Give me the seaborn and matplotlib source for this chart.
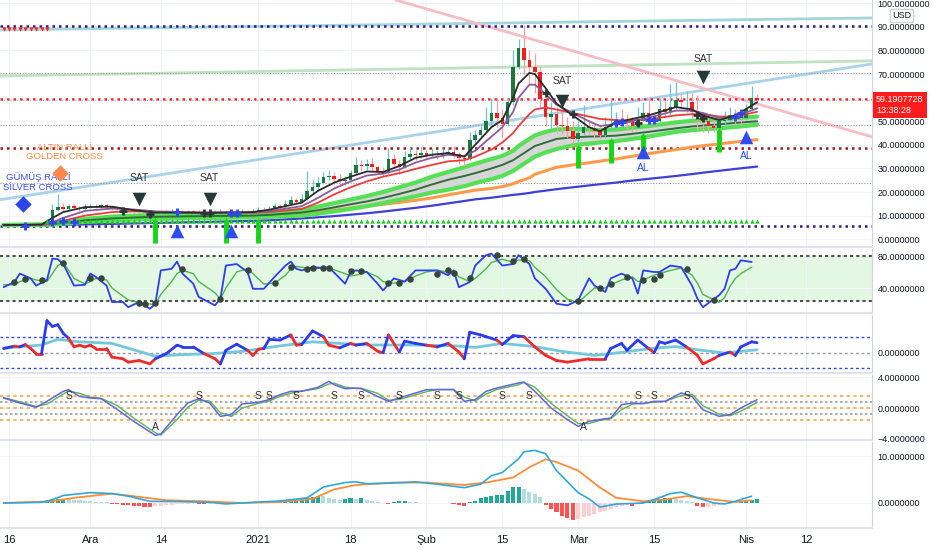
import numpy as np
import pandas as pd
import matplotlib
matplotlib.use("Agg")
import matplotlib.pyplot as plt
import seaborn as sns
from matplotlib import font_manager

# day 0 = 16 Kas 2020, one candle per day
days = np.arange(-1, 139)
closes = [6.0, 6.1, 5.9, 6.0, 6.2, 6.1, 6.0, 6.3, 7.5, 12.5,
          13.5, 12.8, 14.0, 13.2, 12.6, 13.8, 14.2, 13.9, 14.3, 13.5,
          13.0, 12.8, 12.2, 12.5, 11.8, 12.0, 11.5, 11.2, 11.6, 11.0,
          11.3, 11.5, 12.0, 11.6, 11.8, 11.2, 11.4, 11.0, 10.8, 11.2,
          11.5, 11.0, 11.4, 11.2, 11.6, 11.3, 11.8, 12.5, 12.2, 13.0,
          14.0, 13.5, 15.0, 16.5, 15.8, 17.0, 20.5, 22.0, 24.0, 26.5,
          27.0, 25.5, 24.5, 25.0, 28.0, 31.5, 31.0, 32.0, 30.5, 29.0,
          28.0, 34.0, 32.0, 30.5, 35.0, 36.0, 35.5, 36.5, 35.8, 36.0,
          35.5, 36.5, 37.0, 36.0, 34.5, 34.0, 42.0, 44.0, 46.5, 50.0,
          53.5, 51.5, 49.0, 58.0, 73.0, 81.0, 76.0, 73.0, 71.0, 59.5,
          52.0, 53.0, 48.5, 48.0, 46.0, 42.5, 45.0, 47.5, 47.0, 46.0,
          44.0, 47.5, 49.0, 50.5, 50.0, 49.5, 48.0, 50.0, 53.5, 51.0,
          50.0, 55.0, 54.0, 56.0, 59.0, 58.0, 58.0, 54.0, 52.5, 50.0,
          48.0, 47.0, 50.0, 50.5, 52.5, 52.0, 51.5, 55.0, 60.0, 59.2]
highs = [6.3, 6.4, 6.3, 6.4, 6.5, 6.4, 6.4, 6.6, 8.5, 15.0,
         19.0, 15.5, 15.0, 14.8, 14.0, 14.8, 15.0, 14.8, 15.0, 14.8,
         14.0, 13.8, 13.5, 13.3, 12.8, 12.8, 12.5, 12.3, 12.5, 12.0,
         12.2, 12.8, 12.8, 12.5, 12.5, 12.2, 12.3, 11.8, 11.8, 12.2,
         12.6, 12.2, 12.4, 12.3, 12.6, 12.2, 12.6, 13.8, 13.5, 14.0,
         15.5, 15.0, 16.5, 18.5, 17.5, 19.0, 29.0, 25.5, 26.5, 28.5,
         29.5, 28.5, 27.5, 27.0, 29.5, 35.0, 33.5, 34.0, 34.5, 31.0,
         30.5, 38.5, 36.0, 33.5, 37.5, 39.0, 38.0, 39.5, 38.0, 38.5,
         38.0, 38.5, 39.0, 39.5, 37.0, 35.5, 45.5, 46.5, 48.0, 56.0,
         60.0, 60.0, 55.0, 60.0, 80.0, 85.0, 91.0, 80.0, 79.0, 73.5,
         60.5, 58.0, 56.0, 57.0, 52.0, 50.0, 50.0, 57.0, 50.5, 49.0,
         49.0, 52.0, 59.0, 54.0, 55.0, 53.0, 52.0, 56.0, 58.0, 59.0,
         54.0, 60.0, 58.5, 66.0, 66.5, 62.0, 63.0, 62.0, 61.0, 54.0,
         53.0, 51.0, 52.0, 54.5, 56.0, 55.0, 54.0, 57.5, 65.0, 61.5]
lows = [5.7, 5.8, 5.6, 5.7, 5.8, 5.8, 5.7, 5.8, 6.0, 7.2,
        12.0, 12.2, 12.5, 12.6, 12.0, 12.4, 13.3, 13.3, 13.4, 13.0,
        12.5, 12.3, 11.8, 11.8, 11.3, 11.4, 11.0, 10.8, 10.9, 10.5,
        10.8, 11.0, 11.2, 11.0, 11.2, 10.8, 10.9, 10.5, 10.3, 10.6,
        10.9, 10.6, 10.8, 10.8, 11.0, 10.9, 11.1, 11.6, 11.6, 12.0,
        12.8, 12.6, 13.3, 15.0, 15.0, 15.5, 16.8, 19.5, 21.0, 23.5,
        25.0, 23.5, 22.5, 23.0, 24.5, 27.5, 29.0, 29.5, 29.0, 27.5,
        27.0, 27.5, 30.0, 27.5, 30.0, 33.5, 33.5, 34.5, 34.0, 34.5,
        34.0, 34.5, 35.5, 34.5, 32.0, 31.0, 33.5, 40.5, 43.0, 45.5,
        48.0, 47.5, 43.5, 48.0, 57.0, 72.0, 70.0, 66.0, 62.0, 55.0,
        48.0, 47.0, 45.0, 44.5, 43.0, 40.0, 41.0, 44.0, 44.5, 43.0,
        42.5, 43.0, 46.0, 47.5, 48.0, 46.5, 45.5, 47.5, 50.0, 48.5,
        47.5, 49.5, 51.5, 52.5, 55.0, 55.5, 54.0, 51.0, 46.5, 45.5,
        45.0, 45.5, 46.5, 48.5, 49.5, 49.0, 48.5, 50.5, 54.5, 58.0]

# moving averages
ma_days = [-1, 6, 8, 10, 14, 19, 23, 27, 36, 45, 48, 54, 57, 60, 63, 66, 69, 72, 75, 78,
           81, 84, 86, 89, 91, 93, 94, 96, 97, 99, 101, 104, 107, 109, 112, 114, 118, 123,
           126, 128, 131, 134, 138]
ma_black = [6.0, 6.2, 9.0, 11.5, 13.6, 13.8, 12.3, 11.3, 11.2, 11.5, 12.5, 15.5, 20.5, 24.0,
            26.5, 28.7, 28.5, 31.0, 34.5, 35.8, 36.5, 35.0, 40.0, 47.5, 50.5, 60.0, 66.0, 70.5,
            70.0, 64.0, 57.5, 52.5, 47.5, 45.8, 49.5, 50.5, 52.5, 56.0, 55.0, 52.5, 50.5, 52.5, 58.0]
ma_purple = [6.0, 6.1, 7.2, 9.0, 12.0, 13.0, 12.6, 11.8, 11.3, 11.3, 11.9, 14.0, 17.5, 21.5,
             24.5, 27.0, 27.8, 29.5, 32.5, 34.5, 35.8, 35.2, 37.5, 43.5, 47.5, 54.0, 60.0, 65.5,
             65.5, 61.5, 57.0, 53.5, 50.0, 48.0, 48.8, 49.5, 51.5, 54.5, 54.5, 53.5, 51.5, 52.0, 55.5]
ma_red = [6.0, 6.1, 6.8, 7.8, 10.0, 11.5, 11.8, 11.6, 11.3, 11.2, 11.5, 12.8, 15.5, 19.0,
          22.0, 24.5, 26.5, 28.0, 29.8, 31.5, 33.0, 33.5, 35.0, 38.0, 41.0, 45.0, 48.0, 53.0,
          55.0, 55.8, 55.0, 53.5, 52.0, 51.0, 50.5, 50.3, 50.8, 52.5, 53.0, 53.0, 52.0, 52.0, 54.0]
band_up = [6.1, 6.3, 6.6, 7.2, 8.6, 9.6, 10.0, 10.3, 10.5, 10.8, 11.0, 12.5, 13.8, 15.3,
           16.8, 18.3, 20.0, 22.0, 24.0, 26.5, 28.5, 30.5, 32.0, 34.0, 35.3, 37.5, 39.5, 42.5,
           44.0, 45.5, 46.5, 46.8, 46.5, 46.3, 46.5, 47.0, 48.0, 49.5, 50.2, 50.5, 50.8, 51.3, 52.0]
band_mid = [6.0, 6.1, 6.4, 6.9, 8.0, 8.8, 9.2, 9.5, 9.8, 10.0, 10.3, 11.3, 12.3, 13.5,
            14.8, 16.0, 17.5, 19.2, 21.0, 23.2, 25.2, 26.8, 28.0, 30.0, 31.5, 33.5, 35.0, 38.0,
            39.5, 41.0, 42.5, 43.2, 43.5, 43.6, 43.9, 44.4, 45.5, 47.0, 47.8, 48.2, 48.7, 49.3, 50.0]
band_lo = [5.9, 6.0, 6.2, 6.6, 7.4, 8.0, 8.4, 8.7, 8.9, 9.3, 9.5, 10.0, 10.8, 11.8,
           12.8, 14.0, 15.3, 16.8, 18.2, 19.8, 21.0, 22.5, 23.8, 25.5, 26.8, 29.0, 30.5, 33.5,
           35.0, 36.8, 38.2, 39.8, 40.5, 41.0, 41.6, 42.2, 43.5, 45.5, 46.2, 46.6, 47.0, 47.6, 48.5]
ma_orange = [6.0, 6.1, 6.3, 6.6, 7.3, 7.9, 8.2, 8.5, 9.0, 9.5, 9.8, 10.8, 11.5, 12.3,
             13.2, 14.0, 14.8, 15.6, 16.5, 17.5, 18.8, 20.0, 20.8, 21.5, 22.3, 23.5, 24.5, 26.0,
             27.5, 29.0, 30.5, 31.5, 32.4, 33.1, 34.0, 34.8, 36.3, 38.0, 39.0, 39.6, 40.4, 41.2, 42.2]
ma_blue = [5.8, 5.9, 6.0, 6.1, 6.3, 6.5, 6.7, 6.9, 7.3, 7.8, 8.0, 8.8, 9.3, 9.8,
           10.4, 11.0, 11.7, 12.5, 13.3, 14.2, 15.2, 16.2, 16.9, 17.6, 18.2, 18.8, 19.0, 19.6,
           20.0, 20.6, 21.2, 22.0, 22.8, 23.3, 24.0, 24.6, 25.6, 26.8, 27.6, 28.2, 29.0, 29.8, 30.8]

# drawn trend lines: (day0, price0, day1, price1, colour)
trend_lines = [(-1.7, 88.7, 159.2, 93.8, "#a3d6d9"),
               (-1.7, 69.2, 159.2, 75.6, "#bfe3c0"),
               (-1.7, 16.7, 159.2, 74.3, "#a9d2ec"),
               (71.3, 101.4, 159.2, 43.4, "#f7bcc5")]
level_purple = [90.4, 5.6]
level_red = 59.4
level_darkred = 38.7
level_gray = [70.5, 48.4, 23.9]
last_price = 59.19

# signals
sat_days = [24, 37, 102, 128]
sat_marks = [17.1, 17.1, 58.6, 68.8]
sat_text = [26.0, 26.0, 67.1, 76.4]
al_days = [31, 41, 117, 136]
al_marks = [3.5, 3.5, 37.0, 43.3]
al_text = [np.nan, np.nan, 30.2, 35.3]
arrow_days = [27, 40, 46, 105, 111, 117, 131]
arrow_base = [-1.5, -1.5, -1.5, 30.2, 32.3, 34.4, 37.0]
arrow_tip = [8.2, 8.2, 8.2, 39.1, 42.1, 44.2, 46.4]
dark_cross_days = [21, 26, 36, 37, 99, 104, 116, 127, 128]
dark_cross_vals = [12.0, 10.6, 11.1, 11.1, 62.0, 53.0, 49.3, 52.7, 51.2]
blue_cross_days = [3, 8, 10, 12, 31, 41, 42, 112, 113, 118, 119, 134, 135]
blue_cross_vals = [5.6, 7.5, 7.8, 7.5, 11.4, 11.2, 11.2, 49.3, 49.5, 50.5, 50.5, 51.8, 53.5]
sell_alarm_days = [-1, 0, 1, 2, 3, 4, 5, 6, 7]
sell_alarm_level = 88.9
buy_alarm_level = 7.7
silver_cross = (2.6, 15.0)
silver_label = (5.4, 24.3)
golden_cross = (9.5, 28.1)
golden_label = (10.2, 37.0)

# RSI pane
rsi_days = [-1, 1, 2, 4, 5, 7, 8, 9, 10, 12, 14, 15, 16, 18, 19, 21, 22, 24, 26, 27,
            28, 30, 31, 32, 34, 35, 38, 39, 40, 42, 44, 45, 47, 49, 51, 52, 53, 54, 56, 58,
            59, 62, 63, 64, 66, 68, 69, 71, 73, 75, 77, 79, 81, 82, 83, 85, 86, 88, 89, 91,
            93, 94, 96, 97, 99, 101, 103, 105, 107, 108, 110, 111, 113, 115, 116, 117, 119, 120, 122, 124,
            126, 127, 128, 131, 132, 133, 134, 135, 137]
rsi_vals = [41, 47.5, 58, 52, 43, 50, 76.7, 76, 70, 43, 44, 58, 54, 43, 22.5, 22.5, 16, 22.5, 14, 20.4,
            62, 64, 73, 58, 45.4, 28.8, 18.3, 26.7, 68, 70, 60, 39, 39, 54, 68, 73, 64, 62, 66, 65,
            66, 45.4, 60, 62, 60, 45.4, 37, 52, 48, 62, 62, 62, 56, 62, 41, 47.5, 68, 81, 83, 68,
            70, 81, 70, 52, 39, 20.4, 18.3, 24.6, 52, 43, 35, 52, 58, 52, 33, 62, 60, 60, 68, 66,
            43, 26.7, 16, 31, 39, 62, 64, 74.6, 72.5]
rsi_ma = [44, 44, 48, 52, 50, 48, 58, 68, 72, 52, 45, 48, 52, 50, 40, 30, 25, 22, 20, 19,
          32, 48, 58, 62, 58, 48, 34, 26, 40, 60, 64, 58, 45, 46, 56, 64, 67, 66, 64, 65,
          65, 58, 55, 56, 60, 54, 48, 46, 48, 55, 60, 62, 60, 59, 54, 48, 52, 64, 72, 76,
          72, 75, 74, 66, 54, 38, 26, 22, 34, 40, 40, 44, 50, 54, 48, 50, 56, 58, 62, 65,
          56, 46, 32, 22, 28, 42, 52, 58, 66]
rsi_dot_days = [1, 3, 6, 10, 15, 17, 24, 25, 27, 32, 39, 44, 49, 52, 55, 56, 58, 59, 63, 65,
                70, 72, 74, 79, 81, 82, 85, 90, 93, 95, 105, 109, 111, 114, 117, 119, 120, 125, 130]
rsi_dot_vals = [47.5, 51.7, 49.6, 71.7, 52.5, 52.5, 21.7, 20.4, 21.7, 63.3, 26.7, 62, 46.7, 66.3,
                63.3, 65, 65, 65, 60.8, 60.8, 46.7, 46.7, 50.8, 57.9, 62, 59.2, 52.5, 81.7, 73.3,
                75.8, 23.3, 40, 45.4, 53.8, 49.6, 51.7, 55.8, 63.3, 24.6]
rsi_levels = [80, 24]

# momentum pane
mom_days = [-1, 1, 2, 3, 4, 5, 6, 7, 8, 9, 10, 11, 12, 13, 14, 15, 16, 18, 19, 21,
            22, 24, 26, 27, 29, 31, 32, 34, 36, 38, 39, 40, 42, 44, 45, 46, 47, 48, 50, 52,
            53, 54, 56, 58, 59, 61, 63, 64, 66, 68, 69, 70, 72, 73, 75, 77, 79, 81, 83, 84,
            85, 87, 88, 90, 91, 93, 95, 97, 99, 101, 103, 105, 107, 110, 111, 113, 114, 116, 118, 119,
            120, 121, 123, 125, 127, 128, 130, 131, 133, 134, 135, 137, 138]
mom_vals = [0.28, 0.43, 0.38, 0.53, 0.28, -0.04, -0.04, 2.02, 1.66, 1.77,
            1.23, 0.91, 0.38, 0.49, 0.38, 0.49, 0.28, 0.28, -0.26, -0.36,
            -0.57, -0.47, -0.68, -0.36, -0.04, 0.49, 0.38, 0.38, -0.04, -0.36,
            -0.68, 0.17, 0.55, 0.17, -0.15, 0.23, 0.28, 0.85, 0.81, 1.13,
            0.49, 0.53, 1.38, 1.02, 0.49, 0.32, 0.6, 0.49, 0.6, 0.11,
            0.02, 1.13, 0.06, 0.74, 0.6, 0.49, 0.38, 0.6, 0.06, -0.36,
            1.3, 1.13, 1.02, 0.81, 0.53, 1.09, 1.02, 0.38, -0.15, -0.47,
            -0.57, -0.47, -0.36, -0.36, 0.28, 0.6, 0.17, 0.81, 0.28, 0.02,
            0.7, 0.6, 0.81, 0.38, -0.15, -0.68, -0.36, -0.15, 0.06, -0.15,
            0.38, 0.7, 0.64]
mom_sig_days = [-1, 6, 9, 13, 19, 23, 27, 32, 37, 43, 49, 56, 61, 66, 75, 82, 86, 91,
                97, 102, 108, 112, 119, 123, 127, 132, 138]
mom_sig_vals = [0.3, 0.5, 0.85, 0.7, 0.6, 0.2, -0.2, -0.1, -0.05, 0.1, 0.4, 0.7, 0.6, 0.5,
                0.5, 0.45, 0.35, 0.6, 0.4, 0.1, -0.15, 0.0, 0.3, 0.4, 0.2, 0.0, 0.2]
mom_levels = [1.0, -0.95]

# stochastic pane
st_days = [-1, 2, 5, 7, 10, 11, 13, 15, 17, 20, 23, 27, 28, 31, 33, 35, 37, 39, 41, 43,
           46, 48, 50, 52, 54, 57, 59, 60, 62, 64, 65, 68, 70, 72, 74, 77, 79, 82, 84, 86,
           88, 90, 94, 95, 97, 100, 103, 105, 107, 109, 111, 113, 115, 117, 119, 121, 124, 126, 128, 131,
           133, 135, 138]
st_k = [1.29, 0.65, 0.09, 0.86, 2.15, 2.37, 1.5, 1.29, 1.2, -0.2,
        -1.72, -3.53, -3.35, -0.86, 0.65, 1.2, 0.65, -1.08, -0.86, 0.52,
        0.73, 1.08, 1.72, 2.15, 2.15, 2.67, 3.44, 3.0, 2.49, 2.58,
        2.5, 1.5, 0.86, 1.29, 1.72, 2.37, 2.37, 2.37, 0.86, 1.08,
        2.15, 2.58, 3.23, 3.35, 2.15, 0.0, -1.5, -2.37, -1.72, -1.5,
        -1.29, 0.43, 0.65, 0.56, 0.86, 0.86, 1.94, 1.5, -0.22, -1.08,
        -0.86, 0.0, 1.08]
st_d = [1.35, 0.8, 0.2, 0.5, 1.8, 2.2, 1.9, 1.4, 1.25, 0.3,
        -1.3, -3.2, -3.5, -1.5, 0.1, 1.0, 0.9, -0.6, -1.1, 0.0,
        0.6, 0.9, 1.5, 1.9, 2.2, 2.5, 3.1, 3.2, 2.7, 2.5,
        2.55, 1.9, 1.0, 1.1, 1.5, 2.1, 2.4, 2.4, 1.4, 0.9,
        1.8, 2.4, 3.0, 3.3, 2.7, 0.6, -1.0, -2.0, -2.0, -1.6,
        -1.4, -0.2, 0.5, 0.6, 0.75, 0.85, 1.6, 1.8, 0.3, -0.8,
        -1.0, -0.4, 0.7]
s_days = [11, 35, 46, 48, 53, 60, 65, 72, 79, 83, 91, 96, 116, 119, 125]
a_days = [27, 106]
st_orange_levels = [1.5, 0.0, -1.5]
st_gray_levels = [0.75, -0.75]

# MACD pane
macd_days = [-1, 6, 8, 10, 15, 19, 22, 26, 31, 37, 40, 45, 50, 55, 58, 62, 64, 66, 70, 75,
             79, 84, 87, 89, 91, 94, 95, 97, 99, 101, 105, 107, 109, 112, 117, 119, 122, 124, 127, 130,
             132, 134, 137]
macd_vals = [0, 0.15, 0.7, 1.6, 2.2, 2.0, 1.45, 0.36, 0.3, 0.15, -0.2, 0.15, 0.43, 1.1, 3.4,
             4.35, 4.5, 4.1, 4.2, 4.5, 4.0, 3.26, 4.0, 5.8, 6.5, 9.4, 10.9, 11.2, 10.5, 6.9,
             2.2, 0.87, -0.87, -0.22, 0, 0.72, 2.0, 2.3, 1.1, 0, -0.2, 0.36, 1.45]
signal_days = [-1, 8, 12, 19, 24, 29, 36, 43, 50, 56, 60, 64, 71, 77, 84, 88, 93, 96, 99,
               101, 105, 109, 112, 117, 121, 125, 130, 134, 137]
signal_vals = [0, 0.36, 1.1, 2.0, 1.3, 0.58, 0.36, 0, 0.22, 0.87, 2.9, 3.84, 4.35, 4.35,
               3.84, 4.35, 5.43, 7.6, 9.3, 8.7, 6.9, 3.3, 1.1, 0.36, 0.72, 1.45, 0.72, 0.22, 0.58]
hist = [0.0, 0.02, 0.03, 0.02, 0.04, 0.05, 0.1, 0.3, 0.5, 0.7,
        0.87, 0.9, 0.75, 0.7, 0.6, 0.5, 0.4, 0.3, 0.25, 0.15,
        -0.15, -0.25, -0.35, -0.45, -0.55, -0.65, -0.75, -0.8, -0.7, -0.6,
        -0.5, -0.4, -0.3, -0.2, -0.15, -0.1, -0.2, -0.25, -0.2, -0.1,
        -0.08, -0.06, -0.05, -0.03, -0.02, 0.05, 0.1, 0.15, 0.2, 0.25,
        0.3, 0.35, 0.4, 0.5, 0.6, 0.8, 1.1, 1.3, 1.5, 1.4,
        1.0, 0.8, 0.6, 0.9, 1.0, 0.9, 1.0, 0.6, 0.4, 0.2,
        0.1, -0.2, 0.3, 0.4, 0.4, 0.3, 0.2, 0.1, 0.05, -0.05,
        -0.1, -0.05, 0.05, -0.3, -0.5, -0.7, 0.2, 0.5, 1.0, 1.3,
        1.5, 1.6, 1.8, 2.5, 3.3, 3.35, 2.9, 2.4, 1.9, 1.2,
        -0.5, -1.3, -2.0, -2.7, -3.2, -3.6, -3.3, -3.0, -2.7, -2.4,
        -2.0, -1.6, -1.2, -0.9, -0.6, -0.4, -0.6, -0.3, 0.3, 0.5,
        0.7, 0.8, 1.0, 1.1, 0.9, 0.7, 0.4, 0.2, -0.6, -0.9,
        -0.8, -0.6, -0.4, -0.3, -0.2, 0.1, 0.3, 0.5, 0.7, 0.8]

tick_days = [0, 15, 28, 46, 63, 77, 91, 105, 119, 136, 147]
tick_labels = ["16", "Ara", "14", "2021", "18", "Şub", "15", "Mar", "15", "Nis", "12"]
price_ticks = [0, 10, 20, 30, 40, 50, 70, 80, 90, 100]  # 60 sits under the price tag

# ------------------------------------------------------------------
sns.set_theme(style="white")
plt.rcParams["font.family"] = ["DejaVu Sans"]
installed = {f.name for f in font_manager.fontManager.ttflist}
liberation = "Liberation Sans" in installed
axis_font = "Liberation Sans" if liberation else "DejaVu Sans"
axis_size = 6.5 if liberation else 5.8
note_size = 7.5 if liberation else 6.6

fig = plt.figure(figsize=(9.32, 5.5), dpi=100)
fig.patch.set_facecolor("white")
W = 872 / 932


def pane(top, bottom):
    return fig.add_axes([0, 1 - bottom / 550, W, (bottom - top) / 550])


def style(ax, ylim, ticks, labels):
    ax.set_xlim(-1.66, 159.2)
    ax.set_ylim(*ylim)
    ax.set_facecolor("white")
    ax.yaxis.tick_right()
    ax.set_yticks(ticks)
    ax.set_yticklabels(labels, fontsize=axis_size, color="#131722", family=axis_font)
    ax.set_xticks(tick_days)
    ax.tick_params(axis="y", length=0, pad=4)
    ax.tick_params(axis="x", length=0, labelbottom=False)
    ax.grid(True, color="#f0f3fa", lw=0.8)
    ax.set_axisbelow(True)
    for s in ["top", "left"]:
        ax.spines[s].set_visible(False)
    ax.spines["right"].set_color("#d1d4dc")
    ax.spines["right"].set_linewidth(0.8)
    ax.spines["bottom"].set_color("#e0e3eb")
    ax.spines["bottom"].set_linewidth(1.5)
    ax.set_xlabel("")
    ax.set_ylabel("")


ax1 = pane(0, 247)
ax2 = pane(249, 313)
ax3 = pane(315, 373)
ax4 = pane(375, 440)
ax5 = pane(442, 528)

# ---------------- main price pane ----------------
style(ax1, (-3.3, 101.4), price_ticks, [f"{v:.7f}" for v in price_ticks])

for d0, p0, d1, p1, c in trend_lines:
    ax1.plot([d0, d1], [p0, p1], color=c, lw=2, zorder=1)
dot = (0, (1, 1.6))
for lv in level_purple:
    ax1.axhline(lv, color="#2b1b8f", ls=dot, lw=1.8, zorder=1)
ax1.axhline(level_red, color="#ff1a1a", ls=dot, lw=1.8, zorder=1)
ax1.axhline(level_darkred, color="#a01818", ls=dot, lw=1.8, zorder=1)
for lv in level_gray:
    ax1.axhline(lv, color="#9a9a9a", ls=(0, (1, 1.5)), lw=0.8, zorder=1)
ax1.axhline(last_price, color="#a9a9f5", ls=dot, lw=0.9, zorder=1)

# ribbon + moving averages
ax1.fill_between(ma_days, band_lo, band_up, color="#d6d6d6", lw=0, zorder=2)
sns.lineplot(x=ma_days, y=ma_blue, ax=ax1, color="#3f3fd8", lw=1.6, zorder=2)
sns.lineplot(x=ma_days, y=ma_orange, ax=ax1, color="#ff9a4a", lw=2.2, zorder=2)
sns.lineplot(x=ma_days, y=band_up, ax=ax1, color="#55e055", lw=3, zorder=2)
sns.lineplot(x=ma_days, y=band_lo, ax=ax1, color="#55e055", lw=3, zorder=2)
sns.lineplot(x=ma_days, y=band_mid, ax=ax1, color="#2f6e3a", lw=1.4, zorder=2)

# candles
opens = np.r_[closes[0], closes[:-1]]
closes_a = np.array(closes)
up = closes_a >= opens
body_col = np.where(up, "#1e7a3c", "#f01e1e")
wick_col = np.where(up, "#67c6cc", "#f5a0a0")
ax1.vlines(days, lows, highs, colors=wick_col, lw=0.9, zorder=3)
body_lo = np.minimum(opens, closes_a)
body_h = np.maximum(np.abs(closes_a - opens), 0.35)
ax1.bar(days, body_h, bottom=body_lo, width=0.65, color=body_col, lw=0, zorder=3)

sns.lineplot(x=ma_days, y=ma_red, ax=ax1, color="#ee3b3b", lw=1.3, zorder=4)
sns.lineplot(x=ma_days, y=ma_purple, ax=ax1, color="#8e5a9c", lw=1.3, zorder=4)
sns.lineplot(x=ma_days, y=ma_black, ax=ax1, color="#2c2c2c", lw=1.3, zorder=4)

# signal markers
ax1.scatter(sell_alarm_days, [sell_alarm_level] * len(sell_alarm_days), marker="v",
            s=10, color="#ff2020", lw=0, zorder=5)
buy_days = days[days >= 7]
ax1.scatter(buy_days, [buy_alarm_level] * len(buy_days), marker="^", s=10,
            color="#22cc22", lw=0, zorder=5)
ax1.scatter(dark_cross_days, dark_cross_vals, marker="+", s=40, color="#2b3535",
            linewidths=2, zorder=6)
ax1.scatter(blue_cross_days, blue_cross_vals, marker="+", s=40, color="#2d46f0",
            linewidths=2, zorder=6)
ax1.vlines(arrow_days, arrow_base, arrow_tip, colors="#12d812", lw=3.5, zorder=6)
ax1.scatter(arrow_days, arrow_tip, marker="^", s=14, color="#12d812", lw=0, zorder=6)

ax1.scatter(sat_days, sat_marks, marker="v", s=95, color="#263838", lw=0, zorder=7)
for d, ty in zip(sat_days, sat_text):
    ax1.text(d, ty, "SAT", ha="center", va="center", fontsize=note_size, color="#333333",
             family=axis_font, zorder=7)
ax1.scatter(al_days, al_marks, marker="^", s=95, color="#2d4df0", lw=0, zorder=7)
for d, ty in zip(al_days, al_text):
    if not np.isnan(ty):
        ax1.text(d, ty, "AL", ha="center", va="center", fontsize=note_size, color="#2d4df0",
                 family=axis_font, zorder=7)

ax1.scatter(*silver_cross, marker="D", s=70, color="#2b45ee", lw=0, zorder=7)
ax1.text(*silver_label, "GÜMÜŞ RALLİ\nSİLVER CROSS", ha="center", va="center",
         fontsize=note_size - 0.7, color="#3a4ff0", linespacing=1.05, family=axis_font, zorder=7)
ax1.scatter(*golden_cross, marker="D", s=70, color="#ff8a4c", lw=0, zorder=7)
ax1.text(*golden_label, "ALTIN RALLİ\nGOLDEN CROSS", ha="center", va="center",
         fontsize=note_size - 0.7, color="#ff8a40", linespacing=1.05, family=axis_font, zorder=7)

# ---------------- RSI pane ----------------
style(ax2, (8.75, 88.75), [80, 40], ["80.0000000", "40.0000000"])
ax2.axhspan(rsi_levels[1], rsi_levels[0], color="#e2f8e2", lw=0, zorder=0)
for lv in rsi_levels:
    ax2.axhline(lv, color="#4d4d4d", ls=(0, (1.5, 1.5)), lw=1.5, zorder=1)
sns.lineplot(x=rsi_days, y=rsi_ma, ax=ax2, color="#4cb84c", lw=1.0, zorder=2)
sns.lineplot(x=rsi_days, y=rsi_vals, ax=ax2, color="#2f3df0", lw=1.3, zorder=3)
ax2.scatter(rsi_dot_days, rsi_dot_vals, s=22, color="#37453d", lw=0, zorder=4)

# ---------------- momentum pane ----------------
style(ax3, (-1.25, 2.375), [0], ["0.0000000"])
for lv in mom_levels:
    ax3.axhline(lv, color="#3344ff", ls=(0, (2, 2)), lw=1, zorder=1)
ax3.axhline(0, color="#9a9a9a", ls=(0, (2, 2)), lw=1, zorder=1)
sns.lineplot(x=mom_sig_days, y=mom_sig_vals, ax=ax3, color="#74c8dc", lw=2, zorder=2)
sig_at = np.interp(mom_days, mom_sig_days, mom_sig_vals)
for i in range(len(mom_days) - 1):
    c = "#2b3bee" if mom_vals[i + 1] >= sig_at[i + 1] else "#ee2b2b"
    ax3.plot(mom_days[i:i + 2], mom_vals[i:i + 2], color=c, lw=2, zorder=3,
             solid_capstyle="round")

# ---------------- stochastic pane ----------------
style(ax4, (-4.13, 4.26), [4, 0, -4], ["4.0000000", "0.0000000", "\u22124.0000000"])
for lv in st_orange_levels:
    ax4.axhline(lv, color="#ffa64d", ls=(0, (2, 2)), lw=1.2, zorder=1)
for lv in st_gray_levels:
    ax4.axhline(lv, color="#a0a0a0", ls=(0, (1.5, 1.5)), lw=1.2, zorder=1)
sns.lineplot(x=st_days, y=st_d, ax=ax4, color="#58b858", lw=1.0, zorder=2)
sns.lineplot(x=st_days, y=st_k, ax=ax4, color="#6464dc", lw=1.1, zorder=3)
for d in s_days:
    ax4.text(d, 1.6, "S", ha="center", va="center", fontsize=note_size, color="#333333",
             family=axis_font, zorder=4)
for d in a_days:
    ax4.text(d, -2.45, "A", ha="center", va="center", fontsize=note_size, color="#333333",
             family=axis_font, zorder=4)

# ---------------- MACD pane ----------------
style(ax5, (-5.32, 12.98), [10, 0], ["10.0000000", "0.0000000"])
h = np.array(hist)
prev = np.r_[h[0], h[:-1]]
hist_col = np.where(h >= 0, np.where(h >= prev, "#26a69a", "#b2dfdb"),
                    np.where(h < prev, "#ff5252", "#ffcdd2"))
ax5.bar(days, h, width=0.75, color=hist_col, lw=0, zorder=2)
sns.lineplot(x=signal_days, y=signal_vals, ax=ax5, color="#ff8c3a", lw=1.3, zorder=3)
sns.lineplot(x=macd_days, y=macd_vals, ax=ax5, color="#2fa8d8", lw=1.2, zorder=4)
ax5.set_xticklabels(tick_labels, family=axis_font)
ax5.tick_params(axis="x", labelbottom=True, labelsize=8, labelcolor="#131722", pad=5)

# right side tags
fig.text(876 / 932, 1 - 105 / 550, "59.1907728\n13:38:28", ha="left", va="center",
         fontsize=axis_size, color="white", family=axis_font, linespacing=1.2,
         bbox=dict(boxstyle="square,pad=0.35", fc="#ff1c1c", ec="none"))
fig.text(902 / 932, 1 - 16 / 550, "USD", ha="center", va="center", fontsize=axis_size,
         color="#131722", family=axis_font,
         bbox=dict(boxstyle="round,pad=0.25", fc="white", ec="#b2b5be", lw=0.6))

fig.savefig("out.png", dpi=100, facecolor="white")
